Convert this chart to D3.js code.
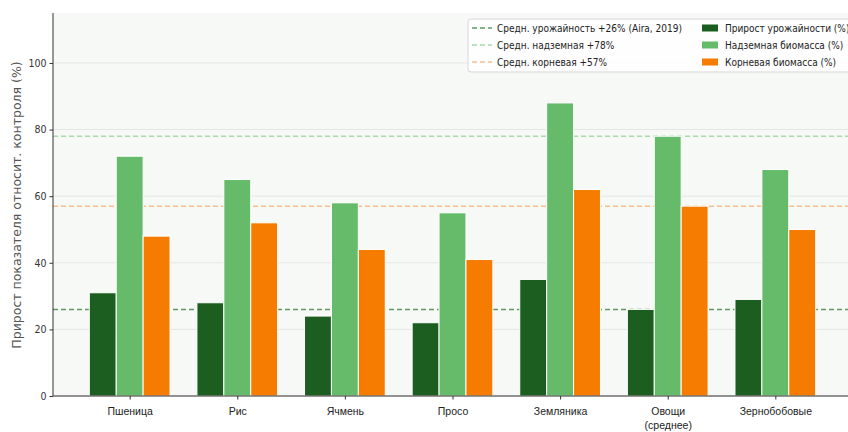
<!DOCTYPE html>
<html>
<head>
<meta charset="utf-8">
<script src="https://cdn.jsdelivr.net/npm/d3@7"></script>
<style>
  body { margin: 0; background: #fff; }
  svg { display: block; font-family: "DejaVu Sans", sans-serif; font-stretch: condensed; }
</style>
</head>
<body>
<svg id="chart" width="848" height="432"></svg>
<script>
const categories = ["Пшеница", "Рис", "Ячмень", "Просо", "Земляника", "Овощи\n(среднее)", "Зернобобовые"];
const yieldGain = [31, 28, 24, 22, 35, 26, 29];
const shootBiomass = [72, 65, 58, 55, 88, 78, 68];
const rootBiomass = [48, 52, 44, 41, 62, 57, 50];
const yTicks = [0, 20, 40, 60, 80, 100];

const seriesNames = ["Прирост урожайности (%)", "Надземная биомасса (%)", "Корневая биомасса (%)"];
const seriesColors = ["#1b5e20", "#66bb6a", "#f57c00"];
const meanNames = ["Средн. урожайность +26% (Aira, 2019)", "Средн. надземная +78%", "Средн. корневая +57%"];
const meanValues = [26, 78, 57];
const meanColors = ["#5f9a62", "#a9dcaa", "#f8bf8c"];

const svg = d3.select("#chart");
const plotL = 53, plotT = 13, plotB = 396, plotR = 852;
const barW = 0.25;

const x = d3.scaleLinear().domain([-0.7125, 6.7125]).range([plotL, plotR]);
const y = d3.scaleLinear().domain([0, 115]).range([plotB, plotT]);

// plot background
svg.append("rect")
  .attr("x", plotL).attr("y", plotT)
  .attr("width", plotR - plotL).attr("height", plotB - plotT)
  .attr("fill", "#f7f9f7");

// grid
svg.append("g").selectAll("line").data(yTicks).join("line")
  .attr("x1", plotL).attr("x2", plotR)
  .attr("y1", d => y(d)).attr("y2", d => y(d))
  .attr("stroke", "#e4e6e4").attr("stroke-width", 1);

// mean lines (behind the bars)
svg.append("g").selectAll("line").data(meanValues).join("line")
  .attr("x1", plotL).attr("x2", plotR)
  .attr("y1", d => y(d)).attr("y2", d => y(d))
  .attr("stroke", (d, i) => meanColors[i])
  .attr("stroke-width", 1.5)
  .attr("stroke-dasharray", "5,3");

// bars
const series = [yieldGain, shootBiomass, rootBiomass];
series.forEach((vals, s) => {
  svg.append("g").selectAll("rect").data(vals).join("rect")
    .attr("x", (d, i) => x(i + (s - 1) * barW - barW / 2))
    .attr("width", x(barW) - x(0))
    .attr("y", d => y(d))
    .attr("height", d => plotB - y(d))
    .attr("fill", seriesColors[s])
    .attr("stroke", "#ffffff")
    .attr("stroke-width", 1);
});

// axes
const yAxis = svg.append("g")
  .attr("transform", `translate(${plotL},0)`)
  .call(d3.axisLeft(y).tickValues(yTicks).tickSize(3.5).tickPadding(3));
yAxis.select(".domain").attr("d", `M0,${plotT}V${plotB}`).attr("stroke", "#333");
yAxis.selectAll(".tick line").attr("stroke", "#333");
yAxis.selectAll("text").attr("font-size", 10.5).attr("fill", "#333").attr("font-family", "DejaVu Sans");

const xAxis = svg.append("g")
  .attr("transform", `translate(0,${plotB})`)
  .call(d3.axisBottom(x).tickValues(d3.range(categories.length)).tickSize(3.5).tickFormat(""));
xAxis.select(".domain").attr("d", `M${plotL},0H${plotR}`).attr("stroke", "#333");
xAxis.selectAll(".tick line").attr("stroke", "#333");
xAxis.selectAll(".tick").each(function (d) {
  const lines = categories[d].split("\n");
  const t = d3.select(this).append("text")
    .attr("fill", "#222").attr("font-size", 10.5).attr("text-anchor", "middle");
  lines.forEach((ln, k) => {
    t.append("tspan").attr("x", 0).attr("y", 19 + k * 14).text(ln);
  });
});

// y label
svg.append("text")
  .attr("transform", "translate(21,205) rotate(-90)")
  .attr("text-anchor", "middle")
  .attr("font-size", 12.5)
  .style("font-stretch", "normal")
  .attr("fill", "#555")
  .text("Прирост показателя относит. контроля (%)");

// legend
const lg = svg.append("g").attr("transform", "translate(468,19)");
lg.append("rect")
  .attr("x", 0).attr("y", 0).attr("width", 400).attr("height", 53)
  .attr("rx", 3)
  .attr("fill", "#ffffff").attr("fill-opacity", 0.85)
  .attr("stroke", "#d6d6d6");
meanNames.forEach((name, i) => {
  const g = lg.append("g").attr("transform", `translate(4,${9 + i * 17})`);
  g.append("line").attr("x1", 0).attr("x2", 20)
    .attr("stroke", meanColors[i]).attr("stroke-width", 1.5).attr("stroke-dasharray", "5,3");
  g.append("text").attr("x", 25).attr("dy", "0.35em")
    .attr("font-size", 10).attr("fill", "#222").text(name);
});
seriesNames.forEach((name, i) => {
  const g = lg.append("g").attr("transform", `translate(234,${9 + i * 17})`);
  g.append("rect").attr("x", 0).attr("y", -3.5).attr("width", 16).attr("height", 7)
    .attr("fill", seriesColors[i]);
  g.append("text").attr("x", 23).attr("dy", "0.35em")
    .attr("font-size", 10).attr("fill", "#222").text(name);
});
</script>
</body>
</html>
